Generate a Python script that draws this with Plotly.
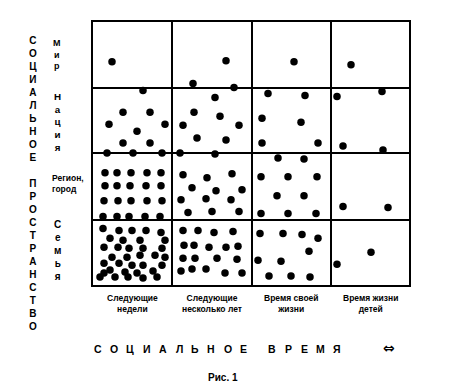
import plotly.graph_objects as go

# column / row boundaries of the grid (axis units = picture pixels)
col_edges = [93, 172, 252, 331, 409]
row_edges = [20, 86, 152, 220, 285]

time_labels = ["Следующие<br>недели", "Следующие<br>несколько лет",
               "Время своей<br>жизни", "Время жизни<br>детей"]
space_labels = ["Мир", "Нация", "Регион, город", "Семья"]

# dots, row "Мир"
mir_x = [112, 226, 193, 294, 351]
mir_y = [60, 59, 82, 60, 63]

# dots, row "Нация"
nation_x = [143, 123, 150, 109, 165, 137, 123, 150, 107, 133, 162,
            234, 215, 194, 220, 183, 239, 197, 226, 180, 215,
            268, 305, 262, 301, 262, 318,
            337, 382, 343, 383]
nation_y = [89, 111, 111, 123, 123, 130, 142, 142, 152, 152, 152,
            86, 96, 111, 115, 124, 124, 137, 139, 152, 153,
            92, 94, 117, 121, 142, 142,
            95, 90, 145, 149]

# dots, row "Регион, город"
region_x = [105, 117, 131, 147, 161,
            105, 117, 130, 146, 161,
            104, 118, 131, 147, 162,
            103, 117, 129, 145, 160,
            183, 207, 232, 192, 216, 242, 181, 206, 231, 188, 212, 239,
            278, 304, 261, 288, 317, 277, 304, 261, 288, 316,
            343, 388]
region_y = [172, 172, 172, 172, 172,
            185, 185, 185, 185, 185,
            200, 200, 200, 200, 200,
            216, 216, 216, 216, 216,
            174, 177, 173, 187, 190, 189, 199, 198, 199, 212, 211, 211,
            157, 158, 176, 176, 176, 195, 195, 213, 213, 213,
            206, 207]

# dots, row "Семья"
family_x = [103, 119, 132, 146, 161, 110, 123, 140, 165, 104, 118, 129,
            143, 162, 112, 127, 140, 155, 165, 104, 119, 132, 143, 162,
            110, 125, 137, 153, 100, 115, 128, 143, 157, 104,
            183, 198, 214, 233, 184, 194, 209, 226, 238, 183, 195, 217,
            237, 181, 192, 206, 225, 242,
            260, 283, 302, 318, 309, 258, 281, 269, 291, 310,
            371, 337]
family_y = [228, 230, 230, 230, 232, 238, 240, 240, 240, 247, 247, 248,
            248, 248, 257, 257, 255, 255, 257, 263, 263, 265, 265, 265,
            270, 272, 273, 271, 277, 277, 277, 278, 277, 273,
            230, 230, 232, 231, 245, 245, 247, 247, 246, 258, 258, 258,
            259, 271, 269, 269, 273, 273,
            233, 233, 234, 238, 251, 260, 261, 276, 276, 277,
            252, 264]

axis_title_y = "СОЦИАЛЬНОЕ ПРОСТРАНСТВО"
axis_title_x = "СОЦИАЛЬНОЕ ВРЕМЯ"
caption = "Рис. 1"

FONT = "Liberation Sans"
BODY = 8  # default page margin of the html body
W, H = 451 - BODY, 391 - BODY


def px(x):
    return (x - col_edges[0]) / (col_edges[-1] - col_edges[0])


def py(y):
    return (row_edges[-1] - y) / (row_edges[-1] - row_edges[0])


def bold(size, family=FONT):
    return dict(family=family, size=size, color="black", weight="bold")


fig = go.Figure()
for xs, ys in [(mir_x, mir_y), (nation_x, nation_y),
               (region_x, region_y), (family_x, family_y)]:
    fig.add_trace(go.Scatter(
        x=xs, y=ys, mode="markers", cliponaxis=False, showlegend=False,
        marker=dict(size=7.5, color="black", line=dict(width=0)),
        hoverinfo="skip"))

ann = []
letters = [c if c != " " else "\u00a0" for c in axis_title_y]
ann.append(dict(x=px(33), y=py(31), text="<br>".join(letters),
                xanchor="center", yanchor="top", font=bold(10)))
ann.append(dict(x=px(57), y=py(34), text="<br>".join(space_labels[0]),
                xanchor="center", yanchor="top", font=bold(9)))
ann.append(dict(x=px(57), y=py(88), text="<br>".join(space_labels[1]),
                xanchor="center", yanchor="top", font=bold(9.8)))
ann.append(dict(x=px(50), y=py(183), text=space_labels[2].replace(" ", "<br>"),
                xanchor="left", yanchor="middle", align="left",
                font=bold(8.5)))
ann.append(dict(x=px(57), y=py(216), text="<br>".join(space_labels[3]),
                xanchor="center", yanchor="top", font=bold(10)))
for i, lab in enumerate(time_labels):
    ann.append(dict(x=px((col_edges[i] + col_edges[i + 1]) / 2), y=py(304),
                    text=lab, xanchor="center", yanchor="middle",
                    font=bold(8.5)))
slot = 0.0
for ch in axis_title_x:
    if ch != " ":
        ann.append(dict(x=px(98 + slot * 16.2), y=py(349), text=ch,
                        xanchor="center", yanchor="middle", font=bold(10.5)))
        slot += 1
    else:
        slot += 0.75
ann.append(dict(x=px(389), y=py(348), text="⇔", xanchor="center",
                yanchor="middle", font=bold(14, "DejaVu Sans")))
ann.append(dict(x=px(223), y=py(378), text=caption, xanchor="center",
                yanchor="middle", font=bold(10)))
for a in ann:
    a.update(xref="paper", yref="paper", showarrow=False)

axis_common = dict(showline=True, mirror=True, linecolor="black",
                   linewidth=2, showgrid=True, gridcolor="black",
                   gridwidth=2, zeroline=False, showticklabels=False,
                   ticks="", fixedrange=True)

fig.update_layout(
    width=W, height=H,
    margin=dict(l=col_edges[0] - BODY, r=451 - col_edges[-1],
                t=row_edges[0] - BODY, b=391 - row_edges[-1]),
    paper_bgcolor="white", plot_bgcolor="white",
    xaxis=dict(range=[col_edges[0], col_edges[-1]],
               tickvals=col_edges[1:-1], **axis_common),
    yaxis=dict(range=[row_edges[-1], row_edges[0]],
               tickvals=row_edges[1:-1], **axis_common),
    annotations=ann,
)

fig.write_html("out.html")
